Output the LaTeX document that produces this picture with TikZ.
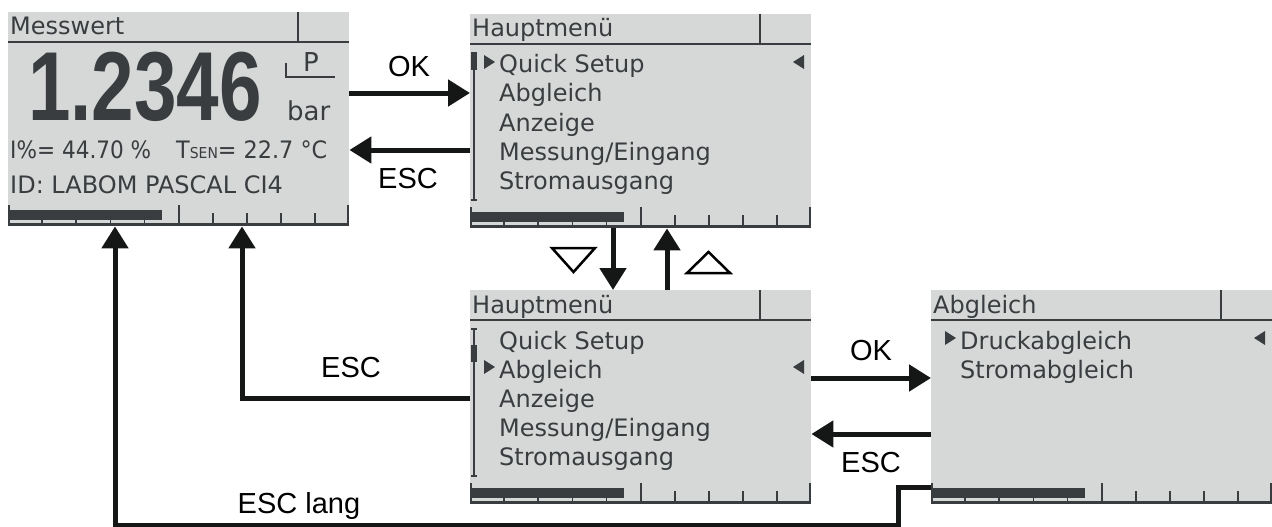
\documentclass[tikz,border=0pt]{standalone}
\usepackage{fontspec}
\setmainfont{Liberation Sans}
\newfontfamily\lcdfamily{DejaVu Sans}
\usetikzlibrary{arrows.meta}
\definecolor{lcd}{RGB}{214,216,215}
\definecolor{ink}{RGB}{58,61,64}
\definecolor{wire}{RGB}{20,23,22}

\newcommand{\lcdframe}{%
  \draw[ink,line width=2.5pt] (0,30) -- (341,30) (290,0) -- (290,30);
  \fill[ink] (0,198) rectangle (154,208);
  \fill[ink] (0,211) rectangle (341,214);
  \foreach \k in {1,...,4}
    \fill[ink] ({34.1*\k-0.8},208) rectangle +(1.6,3);
  \foreach \xt in {0,169.5,339}
    \fill[ink] (\xt,193) rectangle +(2,18);
  \foreach \k in {6,...,9}
    \fill[ink] ({34.1*\k-1},201) rectangle +(2,10);
}
\newcommand{\lcdscroll}[1]{%
  \draw[ink,line width=1.8pt] (1,39) -- (7,39) (4,39) -- (4,186) (1,186) -- (7,186);
  \fill[ink] (0.5,#1) rectangle +(6.5,17);
}
\newcommand{\selmark}[1]{%
  \fill[ink] (14,#1-18) -- (14,#1-4) -- (25,#1-11) -- cycle;
  \fill[ink] (334,#1-18) -- (334,#1-4) -- (323,#1-11) -- cycle;
}

\begin{document}
\begin{tikzpicture}[x=1pt,y=-1pt,
  screen/.style={fill=lcd, minimum width=341pt, minimum height=214pt, inner sep=0pt, anchor=north west},
  lcdtext/.style={text=ink, font=\lcdfamily\fontsize{24}{24}\selectfont, anchor=base west, inner sep=0pt},
  lbl/.style={font=\fontsize{29}{29}\selectfont, anchor=base, inner sep=0pt},
  arr/.style={wire, line width=5pt, -{Triangle[length=22pt,width=26pt]}}]
  \useasboundingbox (0,0) rectangle (1272,527);

  \node[screen] (mw) at (8,12) {};
  \node[screen] (hm1) at (470,14) {};
  \node[screen] (hm2) at (470,290) {};
  \node[screen] (ab) at (931,290) {};

  % Messwert
  \begin{scope}[shift={(mw.north west)}]
    \lcdframe
    \node[lcdtext] (mw-head) at (2,23) {Messwert};
    \node[lcdtext, font=\bfseries\fontsize{98}{98}\selectfont] (mw-val) at (20,108) {\scalebox{0.78}[1]{1.2346}};
    \draw[ink,line width=2pt] (278,51) -- (278,65) -- (327,65);
    \node[lcdtext, anchor=base, font=\lcdfamily\fontsize{26}{26}\selectfont] (mw-p) at (303,60) {P};
    \node[lcdtext, font=\lcdfamily\fontsize{26}{26}\selectfont] (mw-unit) at (279,108) {bar};
    \node[lcdtext] (mw-pct) at (2,146) {\scalebox{0.9}[1]{I\%= 44.70 \%}};
    \node[lcdtext] (mw-temp) at (168,146) {\scalebox{0.93}[1]{T{\fontsize{15}{15}\selectfont SEN}= 22.7 °C}};
    \node[lcdtext] (mw-id) at (2,181) {ID: LABOM PASCAL CI4};
  \end{scope}

  % Hauptmenue
  \begin{scope}[shift={(hm1.north west)}]
    \lcdframe
    \lcdscroll{39}
    \selmark{59}
    \node[lcdtext] (hm1-head) at (2,23) {Hauptmenü};
    \foreach \t [count=\i] in {Quick Setup,Abgleich,Anzeige,Messung/Eingang,Stromausgang}
      \node[lcdtext] (hm1-\i) at (29,{30+29*\i}) {\t};
  \end{scope}

  \begin{scope}[shift={(hm2.north west)}]
    \lcdframe
    \lcdscroll{55}
    \selmark{88}
    \node[lcdtext] (hm2-head) at (2,23) {Hauptmenü};
    \foreach \t [count=\i] in {Quick Setup,Abgleich,Anzeige,Messung/Eingang,Stromausgang}
      \node[lcdtext] (hm2-\i) at (29,{30+29*\i}) {\t};
  \end{scope}

  % Abgleich
  \begin{scope}[shift={(ab.north west)}]
    \lcdframe
    \selmark{59}
    \node[lcdtext] (ab-head) at (2,23) {Abgleich};
    \foreach \t [count=\i] in {Druckabgleich,Stromabgleich}
      \node[lcdtext] (ab-\i) at (29,{30+29*\i}) {\t};
  \end{scope}

  \draw[arr] (mw.east |- 0,93) -- (hm1.west |- 0,93);
  \draw[arr] (hm1.west |- 0,150) -- (mw.east |- 0,150);
  \draw[arr] (hm1.south -| 613,0) -- (hm2.north -| 613,0);
  \draw[arr] (hm2.north -| 667,0) -- (hm1.south -| 667,0);
  \draw[arr] (hm2.east |- 0,378) -- (ab.west |- 0,378);
  \draw[arr] (ab.west |- 0,434) -- (hm2.east |- 0,434);
  \draw[arr] (hm2.west |- 0,398) -| (mw.south -| 242,0);
  \draw[arr] (ab.west |- 0,487) -| (898,525) -| (mw.south -| 115,0);

  \node[lbl] (ok1) at (409,77) {OK};
  \node[lbl] (esc1) at (408,188) {ESC};
  \node[lbl] (ok2) at (871,360) {OK};
  \node[lbl] (esc2) at (871,472) {ESC};
  \node[lbl] (esc3) at (351,377) {ESC};
  \node[lbl] (esclong) at (299,513) {ESC lang};

  \draw[line width=2.5pt] (552,248) -- (595,248) -- (573.5,272) -- cycle;
  \draw[line width=2.5pt] (687,273) -- (730,273) -- (708.5,252) -- cycle;
\end{tikzpicture}
\end{document}
